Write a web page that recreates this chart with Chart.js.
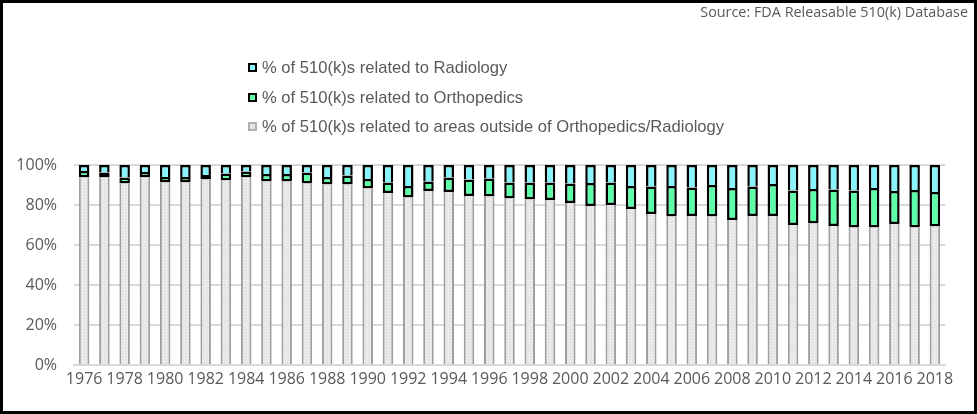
<!DOCTYPE html>
<html>
<head>
<meta charset="utf-8">
<script src="https://cdn.jsdelivr.net/npm/chart.js@4"></script>
<style>
  html, body { margin: 0; padding: 0; background: #fff; }
  #wrap { position: relative; width: 977px; height: 414px; overflow: hidden; }
  #c { position: absolute; left: 0; top: 0; }
  #frame { position: absolute; left: 0; top: 0; width: 977px; height: 414px; box-sizing: border-box; border: 3px solid #000; pointer-events: none; }
  #source { position: absolute; right: 9px; top: 2px; font-family: "Open Sans", sans-serif; color: #595959; white-space: nowrap; }
  .leg { position: absolute; left: 248px; font-family: "Liberation Sans", Arial, sans-serif; font-size: 16.6px; color: #595959; white-space: nowrap; height: 20px; line-height: 20px; }
  .leg .box { position: absolute; left: 0; top: 5px; width: 9px; height: 9px; box-sizing: border-box; }
  .leg .txt { position: absolute; left: 14px; top: 0; }
</style>
</head>
<body>
<div id="wrap">
  <canvas id="c" width="977" height="414"></canvas>
  <div id="source">Source: FDA Releasable 510(k) Database</div>
  <div id="legend"></div>
  <div id="frame"></div>
</div>
<script>
const years = [1976,1977,1978,1979,1980,1981,1982,1983,1984,1985,1986,1987,1988,1989,1990,1991,1992,1993,1994,1995,1996,1997,1998,1999,2000,2001,2002,2003,2004,2005,2006,2007,2008,2009,2010,2011,2012,2013,2014,2015,2016,2017,2018];
const outside = [93.8,93.8,90.8,93.8,91.3,91.3,92.8,92.3,93.8,91.7,91.7,90.8,90.3,90.3,88.2,86.0,83.8,87.0,86.5,84.5,84.3,83.2,82.8,82.5,81.0,79.5,80.0,78.0,75.5,74.2,74.5,74.3,72.5,74.5,74.5,70.0,70.7,69.5,68.7,68.7,70.5,68.7,69.2];
const orthopedics = [3.2,2.5,2.9,2.7,2.7,2.7,2.2,3.4,2.9,3.8,3.8,5.4,3.7,4.4,4.8,5.3,5.7,4.7,7.3,8.3,8.9,8.1,8.5,8.8,9.7,11.5,11.3,11.5,13.7,15.3,14.2,15.7,16.0,14.8,16.0,17.3,17.3,18.3,18.6,19.8,16.5,18.8,17.3];
const radiology = [3.0,3.7,6.3,3.5,6.0,6.0,5.0,4.3,3.3,4.5,4.5,3.8,6.0,5.3,7.0,8.7,10.5,8.3,6.2,7.2,6.8,8.7,8.7,8.7,9.3,9.0,8.7,10.5,10.8,10.5,11.3,10.0,11.5,10.7,9.5,12.7,12.0,12.2,12.7,11.5,13.0,12.5,13.5];
const yTicks = [0,20,40,60,80,100];
const seriesNames = [
  "% of 510(k)s related to areas outside of Orthopedics/Radiology",
  "% of 510(k)s related to Orthopedics",
  "% of 510(k)s related to Radiology"
];

function makePattern() {
  const p = document.createElement('canvas');
  p.width = 3; p.height = 3;
  const g = p.getContext('2d');
  g.fillStyle = '#e6e6e6'; g.fillRect(0,0,3,3);
  g.fillStyle = '#fafafa'; g.fillRect(1,1,1,1);
  return document.getElementById('c').getContext('2d').createPattern(p, 'repeat');
}
const grayFill = makePattern();
const colors = {
  outsideFill: grayFill, outsideBorder: '#9f9f9f',
  orthoFill: '#5dffa8', radFill: '#8af4fc', dark: '#000000'
};

(function(){
  const el = document.getElementById('source');
  const ctx = document.createElement('canvas').getContext('2d');
  const target = 268;
  let size = 16;
  ctx.font = size + 'px "Open Sans"';
  const w = ctx.measureText(el.textContent).width;
  size = Math.min(16, size * target / w);
  el.style.fontSize = size.toFixed(2) + 'px';
})();

(function(){
  const leg = document.getElementById('legend');
  const items = [
    {name: seriesNames[2], fill: colors.radFill, border: '2px solid #000'},
    {name: seriesNames[1], fill: colors.orthoFill, border: '2px solid #000'},
    {name: seriesNames[0], fill: '#e6e6e6', border: '2px solid #b0b0b0'}
  ];
  const tops = [58, 88, 117];
  items.forEach((it, i) => {
    const d = document.createElement('div');
    d.className = 'leg';
    d.style.top = tops[i] + 'px';
    d.innerHTML = '<div class="box" style="background:' + it.fill + ';border:' + it.border + '"></div><div class="txt"></div>';
    d.querySelector('.txt').textContent = it.name;
    leg.appendChild(d);
  });
})();

const ctx = document.getElementById('c').getContext('2d');
new Chart(ctx, {
  type: 'bar',
  data: {
    labels: years.map(String),
    datasets: [
      { label: seriesNames[0], data: outside, backgroundColor: colors.outsideFill, borderColor: colors.outsideBorder,
        borderWidth: {left: 2, right: 2, top: 0, bottom: 0}, borderSkipped: false },
      { label: seriesNames[1], data: orthopedics, backgroundColor: colors.orthoFill, borderColor: colors.dark,
        borderWidth: 2.5, borderSkipped: false },
      { label: seriesNames[2], data: radiology, backgroundColor: colors.radFill, borderColor: colors.dark,
        borderWidth: {left: 2.5, right: 2.5, top: 2.5, bottom: 0}, borderSkipped: false }
    ]
  },
  options: {
    responsive: false,
    animation: false,
    devicePixelRatio: 1,
    layout: { padding: { left: 0, right: 32, top: 165, bottom: 0 } },
    datasets: { bar: { categoryPercentage: 1.0, barPercentage: 0.52 } },
    plugins: { legend: { display: false }, tooltip: { enabled: false }, title: { display: false } },
    scales: {
      x: {
        stacked: true,
        grid: { display: false, drawTicks: false },
        border: { display: true, color: '#d9d9d9', width: 2 },
        ticks: {
          autoSkip: false, maxRotation: 0, minRotation: 0, padding: 5,
          color: '#595959', font: { family: 'Open Sans', size: 16 },
          callback: function(v, i) { return i % 2 === 0 ? this.getLabelForValue(v) : ''; }
        },
        afterFit: s => { s.height = 49; }
      },
      y: {
        stacked: true, min: 0, max: 100,
        afterBuildTicks: s => { s.ticks = yTicks.map(v => ({value: v})); },
        grid: { color: '#d9d9d9', lineWidth: 2, drawTicks: false },
        border: { display: false },
        ticks: { padding: 17, color: '#595959', font: { family: 'Open Sans', size: 16 },
          callback: v => v + '%' },
        afterFit: s => { s.width = 74; }
      }
    }
  }
});
</script>
</body>
</html>
